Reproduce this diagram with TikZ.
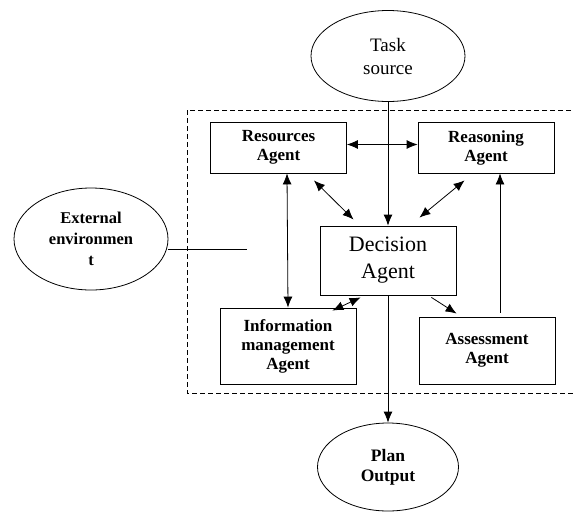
\documentclass[tikz,border=0pt]{standalone}
\usepackage{fontspec}
\setmainfont{Liberation Serif}
\usetikzlibrary{shapes.geometric,arrows.meta}
\begin{document}
\begin{tikzpicture}[x=1pt,y=-1pt,
    line width=0.8pt,
    agentbox/.style={draw, rectangle, minimum width=136pt, align=center,
        font=\fontsize{17}{19}\selectfont\bfseries},
    endpoint/.style={draw, ellipse, inner sep=0pt, align=center},
    link/.style={-{Latex[length=11pt,width=9pt]}},
    twoway/.style={{Latex[length=11pt,width=9pt]}-{Latex[length=11pt,width=9pt]}}]
    \useasboundingbox (0,0) rectangle (573,515);

    % outer group
    \draw[dashed, dash pattern=on 5pt off 3pt] (187,110) rectangle (580,393);

    \node[endpoint, minimum width=154pt, minimum height=91pt,
          font=\fontsize{19}{23}\selectfont] (task) at (388,56) {Task\\source};
    \node[endpoint, minimum width=141pt, minimum height=88pt,
          font=\fontsize{17.5}{20}\selectfont\bfseries] (plan) at (388,467) {Plan\\Output};
    \node[endpoint, minimum width=154pt, minimum height=102pt,
          font=\fontsize{16.5}{21}\selectfont\bfseries] (ext) at (91,239) {External\\environmen\\t};

    \node[agentbox, minimum height=51pt] (res) at (278.5,147.5) {Resources\\Agent};
    \node[agentbox, minimum height=51pt] (rea) at (486,147.5) {Reasoning\\Agent};
    \node[agentbox, minimum height=69pt, font=\fontsize{22}{27}\selectfont] (dec) at (388,260.5) {Decision\\Agent};
    \node[agentbox, minimum height=76pt] (info) at (288,346) {Information\\management\\Agent};
    \node[agentbox, minimum height=67pt] (ass) at (487,350.5) {Assessment\\Agent};

    \coordinate (envend) at (247,249);

    \draw[link] (task.south) -- (dec.north);
    \draw[link] (dec.south) -- (plan.north);
    \draw[twoway] ([yshift=3pt]res.east) -- ([yshift=3pt]rea.west);
    \draw[twoway] ([xshift=8.5pt]res.south) -- (info.north);
    \draw[twoway] ([xshift=34pt,yshift=6pt]dec.north west) -- ([xshift=-33pt,yshift=-7pt]res.south east);
    \draw[twoway] ([xshift=-37pt,yshift=8pt]dec.north east) -- ([xshift=47pt,yshift=-7pt]rea.south west);
    \draw[twoway] ([xshift=41pt,yshift=-2pt]dec.south west) -- ([xshift=-24pt,yshift=-3pt]info.north east);
    \draw[link] ([xshift=-25pt,yshift=-2pt]dec.south east) -- ([xshift=38pt,yshift=3pt]ass.north west);
    \draw[link] ([xshift=13pt,yshift=4pt]ass.north) -- ([xshift=14pt]rea.south);
    \draw (ext.east |- envend) -- (envend);
\end{tikzpicture}
\end{document}
